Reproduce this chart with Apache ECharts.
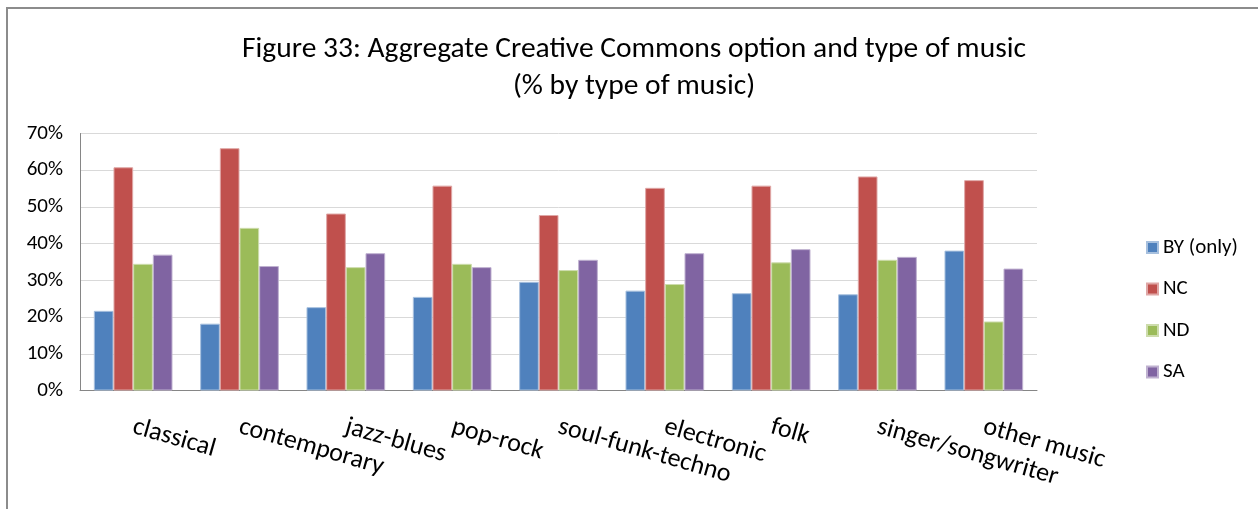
<!DOCTYPE html>
<html>
<head>
<meta charset="utf-8">
<script src="https://cdn.jsdelivr.net/npm/echarts@6/dist/echarts.min.js"></script>
<style>
html,body{margin:0;padding:0;background:#fff;}
#chart{width:1258px;height:509px;}
</style>
</head>
<body>
<div id="chart"></div>
<script>
var categories = ['classical','contemporary','jazz-blues','pop-rock','soul-funk-techno','electronic','folk','singer/songwriter','other music'];
var seriesNames = ['BY (only)','NC','ND','SA'];
var byOnly = [21.7, 18.2, 22.7, 25.5, 29.6, 27.2, 26.5, 26.2, 38.1];
var nc     = [60.8, 66.0, 48.2, 55.8, 47.8, 55.2, 55.8, 58.3, 57.3];
var nd     = [34.5, 44.3, 33.6, 34.5, 32.8, 29.0, 34.9, 35.6, 18.8];
var sa     = [37.0, 33.9, 37.4, 33.6, 35.6, 37.4, 38.5, 36.4, 33.2];
var yTicks = [0, 10, 20, 30, 40, 50, 60, 70];
var titleLine1 = 'Figure 33: Aggregate Creative Commons option and type of music';
var titleLine2 = '(% by type of music)';

var colors = ['#4f81bd','#c0504d','#9bbb59','#8064a2'];
var borders = ['#a7c0de','#dfa7a6','#cddcac','#bfb1d0'];
var FONT = 'Carlito, Lato, sans-serif';

var chart = echarts.init(document.getElementById('chart'), null, {renderer:'canvas'});
var values = [byOnly, nc, nd, sa];
var series = seriesNames.map(function(n, i){
  return {
    name: n, type: 'bar', data: values[i],
    barGap: '0%', barCategoryGap: '26%',
    itemStyle: {color: colors[i], borderColor: borders[i], borderWidth: 1},
    emphasis: {disabled: true}
  };
});

chart.setOption({
  animation: false,
  backgroundColor: '#ffffff',
  textStyle: {fontFamily: FONT},
  title: {
    text: titleLine1 + '\n' + titleLine2,
    left: 629, top: 26, textAlign: 'center',
    textStyle: {fontFamily: FONT, fontSize: 29.5, fontWeight: 'normal', color: '#000', lineHeight: 37}
  },
  legend: {
    orient: 'vertical', left: 1141, top: 232,
    itemWidth: 11, itemHeight: 11, itemGap: 20.5, icon: 'rect',
    textStyle: {fontFamily: FONT, fontSize: 21, color: '#000'},
    data: seriesNames
  },
  grid: {left: 80, right: 221, top: 133.5, bottom: 118.5, containLabel: false},
  xAxis: {
    type: 'category', data: categories,
    axisLine: {show: true, lineStyle: {color: '#868686', width: 1}},
    axisTick: {show: false},
    axisLabel: {rotate: -16, interval: 0, margin: 36, fontFamily: FONT, fontSize: 26, color: '#000'}
  },
  yAxis: {
    type: 'value', min: 0, max: 70, interval: 10,
    axisLine: {show: true, lineStyle: {color: '#868686', width: 1}},
    axisTick: {show: false},
    splitLine: {lineStyle: {color: '#d9d9d9', width: 1}},
    axisLabel: {margin: 17, fontFamily: FONT, fontSize: 21, color: '#000',
      formatter: function(v){ return yTicks.indexOf(v) >= 0 ? v + '%' : ''; }}
  },
  graphic: [
    {type: 'line', shape: {x1: 6, y1: 8, x2: 1258, y2: 8}, style: {stroke: '#8c8c8c', lineWidth: 2}, silent: true},
    {type: 'line', shape: {x1: 7, y1: 7, x2: 7, y2: 509}, style: {stroke: '#8c8c8c', lineWidth: 2}, silent: true}
  ],
  series: series
});
</script>
</body>
</html>
